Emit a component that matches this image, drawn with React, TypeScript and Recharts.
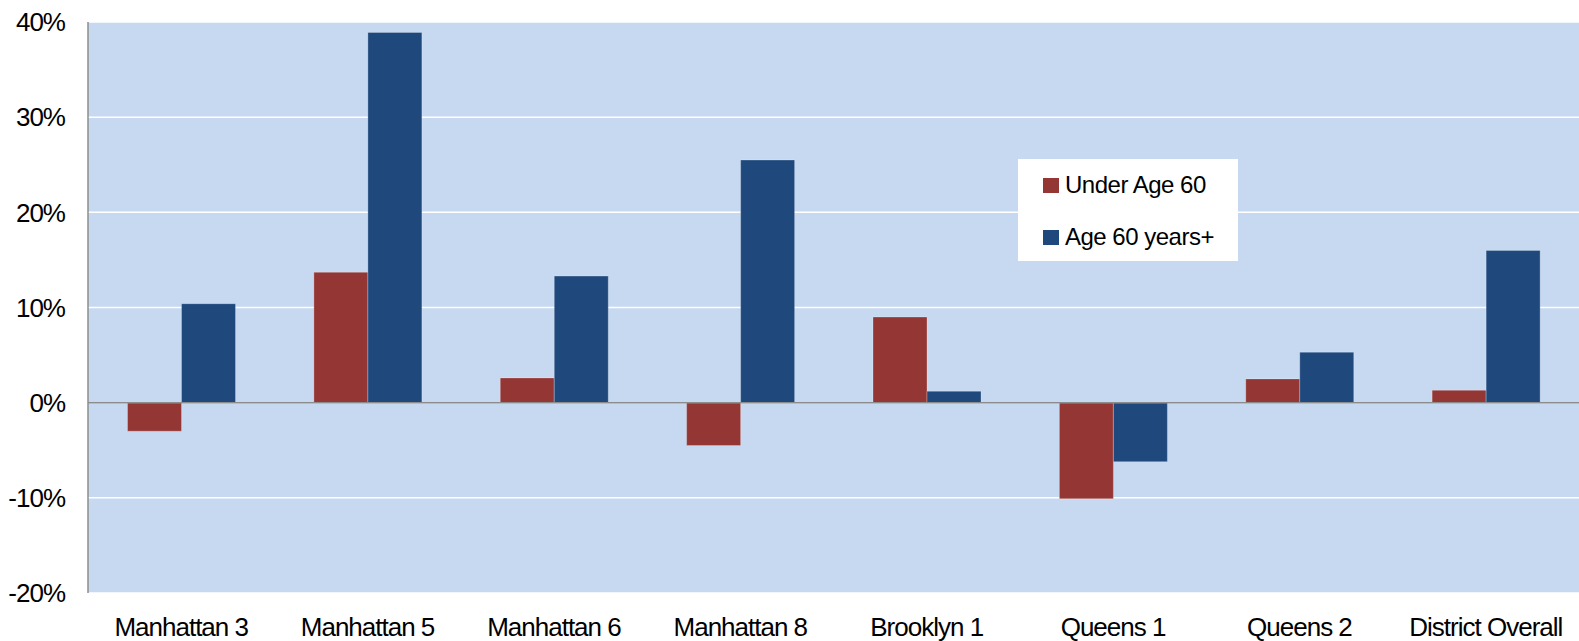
import React from 'react';
import { BarChart, Bar, XAxis, YAxis, CartesianGrid, ReferenceLine } from 'recharts';

const categories = ['Manhattan 3', 'Manhattan 5', 'Manhattan 6', 'Manhattan 8', 'Brooklyn 1', 'Queens 1', 'Queens 2', 'District Overall'];
const underAge60 = [-3.0, 13.7, 2.6, -4.5, 9.0, -10.1, 2.5, 1.3];
const age60Plus = [10.4, 38.9, 13.3, 25.5, 1.2, -6.2, 5.3, 16.0];
const yTicks = [-20, -10, 0, 10, 20, 30, 40];
const seriesNames = ['Under Age 60', 'Age 60 years+'];
const seriesColors = ['#943634', '#1F497D'];

const data = categories.map((c, i) => ({ name: c, under: underAge60[i], over: age60Plus[i] }));

const FONT = '"Liberation Sans", Arial, sans-serif';

const LegendBox = () => (
  <div style={{ position: 'absolute', left: 1018, top: 159, background: '#ffffff', width: 220, height: 102, boxSizing: 'border-box', paddingTop: 2, fontFamily: FONT }}>
    {seriesNames.map((n, i) => (
      <div key={i} style={{ display: 'flex', alignItems: 'center', height: 48, marginLeft: 25, marginTop: i === 1 ? 4 : 0 }}>
        <div style={{ width: 16, height: 15, background: seriesColors[i], marginRight: 6 }} />
        <span style={{ fontSize: 24, letterSpacing: -0.5, color: '#000' }}>{n}</span>
      </div>
    ))}
  </div>
);

export default function App() {
  return (
    <div style={{ position: 'absolute', left: 0, top: 0, width: 1579, height: 641, background: '#fff' }}>
      <BarChart width={1579} height={641} data={data} margin={{ top: 22, right: 0, bottom: 0, left: 0 }} barGap={0} barCategoryGap="21.2%">
        <CartesianGrid vertical={false} horizontal={true} stroke="#ffffff" strokeWidth={1.5} fill="#C6D9F1" />
        <XAxis dataKey="name" height={48} axisLine={false} tickLine={false} tickMargin={19} interval={0}
          tick={{ fontSize: 26, letterSpacing: -1, fill: '#000', fontFamily: FONT }} />
        <YAxis width={88} domain={[-20, 40]} ticks={yTicks} allowDataOverflow axisLine={{ stroke: '#8c8c8c', strokeWidth: 1.5 }} tickLine={false} tickMargin={17}
          tickFormatter={(v: number) => `${v}%`} tick={{ fontSize: 26, letterSpacing: -1, fill: '#000', fontFamily: FONT }} />
        <ReferenceLine y={0} stroke="#8c8c8c" strokeWidth={1.5} />
        <Bar dataKey="under" name={seriesNames[0]} fill={seriesColors[0]} stroke="rgba(255,255,255,0.25)" strokeWidth={1} isAnimationActive={false} />
        <Bar dataKey="over" name={seriesNames[1]} fill={seriesColors[1]} stroke="rgba(255,255,255,0.25)" strokeWidth={1} isAnimationActive={false} />
      </BarChart>
      <LegendBox />
    </div>
  );
}
